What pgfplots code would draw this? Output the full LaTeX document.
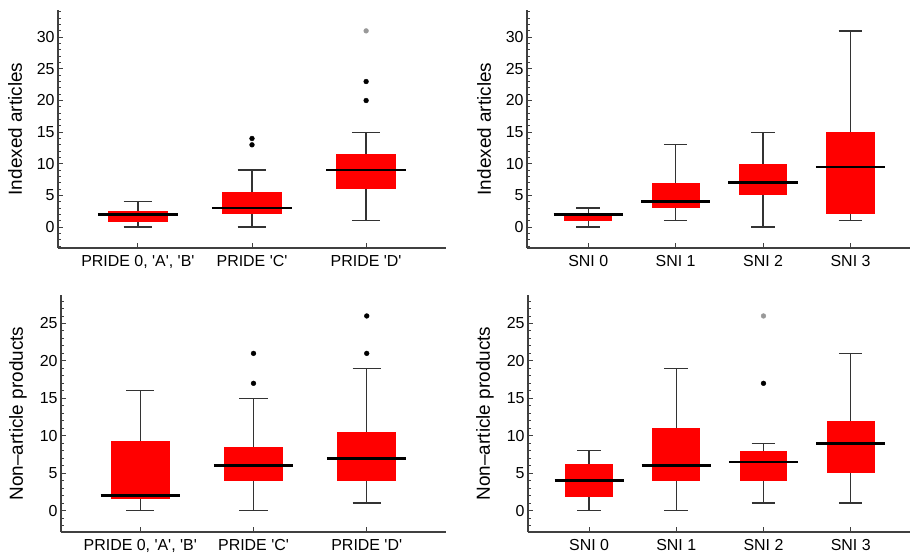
\documentclass[border=0pt]{standalone}
\usepackage{fontspec}
\setmainfont{Liberation Sans}
\usepackage{pgfplots}
\pgfplotsset{compat=1.18}
\usepgfplotslibrary{statistics}
\newcommand{\q}{\textquotesingle}
\definecolor{axgray}{gray}{0.25}
\pgfplotsset{
  panel/.style={
    scale only axis,
    axis lines=left,
    axis line style={-, axgray, line width=1.1bp},
    tick align=inside,
    major tick length=4.5bp,
    minor tick length=2.5bp,
    tick style={axgray, line width=0.9bp},
    /pgf/number format/assume math mode=true,
    tick label style={font=\fontsize{16}{19}\selectfont, text=black},
    xticklabel style={yshift=-4bp},
    every axis y label/.style={at={(axis description cs:0,0.5)}, xshift=-43bp, rotate=90, anchor=center, font=\fontsize{19}{22}\selectfont},
    clip=false,
  },
  pride/.style={xmin=-0.7, xmax=2.7, xtick={0,1,2},
    xticklabels={{PRIDE 0, \q A\q, \q B\q}, {PRIDE \q C\q}, {PRIDE \q D\q}}},
  sni/.style={xmin=-0.7, xmax=3.68, xtick={0,1,2,3},
    xticklabels={SNI 0, SNI 1, SNI 2, SNI 3}},
  toprow/.style={ymin=-3.3, ymax=34.3, ytick={0,5,...,30}, minor ytick={-3,...,34}, ylabel={Indexed articles}},
  botrow/.style={ymin=-2.86, ymax=28.8, ytick={0,5,...,25}, minor ytick={-2,...,28}, ylabel={Non–article products}},
  bxcommon/.style={
    boxplot/draw direction=y,
    boxplot/every box/.style={fill=red, draw=none},
    boxplot/every whisker/.style={black!80, line width=1.3bp},
    boxplot/every median/.style={black, line width=2.7bp},
  },
  bxP/.style={bxcommon,
    boxplot/box extend=0.52, boxplot/whisker extend=0.25,
    boxplot/draw/median/.code={\draw[/pgfplots/boxplot/every median/.try] (boxplot box cs:\pgfplotsboxplotvalue{median},-0.175) -- (boxplot box cs:\pgfplotsboxplotvalue{median},1.175);},
  },
  bxS/.style={bxcommon,
    boxplot/box extend=0.55, boxplot/whisker extend=0.27,
    boxplot/draw/median/.code={\draw[/pgfplots/boxplot/every median/.try] (boxplot box cs:\pgfplotsboxplotvalue{median},-0.22) -- (boxplot box cs:\pgfplotsboxplotvalue{median},1.22);},
  },
  outb/.style={only marks, mark=*, mark size=2.4bp, black, mark options={draw=black, fill=black}},
  outg/.style={only marks, mark=*, mark size=2.4bp, mark options={draw=black!40, fill=black!40}},
}
\begin{document}
\begin{tikzpicture}
\useasboundingbox (0,0) rectangle (911bp,558bp);
% ---------------- top left
\begin{axis}[panel, pride, toprow, at={(58bp,310bp)}, anchor=south west, width=388bp, height=238bp]
\addplot[bxP, boxplot prepared={draw position=0, lower whisker=0, lower quartile=0.75, median=2, upper quartile=2.5, upper whisker=4}] coordinates {};
\addplot[bxP, boxplot prepared={draw position=1, lower whisker=0, lower quartile=2, median=3, upper quartile=5.5, upper whisker=9}] coordinates {};
\addplot[bxP, boxplot prepared={draw position=2, lower whisker=1, lower quartile=6, median=9, upper quartile=11.5, upper whisker=15}] coordinates {};
\addplot[outb] coordinates {(1,13) (1,14) (2,20) (2,23)};
\addplot[outg] coordinates {(2,31)};
\end{axis}
% ---------------- top right
\begin{axis}[panel, sni, toprow, at={(527bp,310bp)}, anchor=south west, width=383bp, height=238bp]
\addplot[bxS, boxplot prepared={draw position=0, lower whisker=0, lower quartile=1, median=2, upper quartile=2, upper whisker=3}] coordinates {};
\addplot[bxS, boxplot prepared={draw position=1, lower whisker=1, lower quartile=3, median=4, upper quartile=7, upper whisker=13}] coordinates {};
\addplot[bxS, boxplot prepared={draw position=2, lower whisker=0, lower quartile=5, median=7, upper quartile=10, upper whisker=15}] coordinates {};
\addplot[bxS, boxplot prepared={draw position=3, lower whisker=1, lower quartile=2, median=9.5, upper quartile=15, upper whisker=31}] coordinates {};
\end{axis}
% ---------------- bottom left
\begin{axis}[panel, pride, botrow, at={(61bp,26bp)}, anchor=south west, width=385bp, height=237bp]
\addplot[bxP, boxplot prepared={draw position=0, lower whisker=0, lower quartile=1.5, median=2, upper quartile=9.25, upper whisker=16}] coordinates {};
\addplot[bxP, boxplot prepared={draw position=1, lower whisker=0, lower quartile=4, median=6, upper quartile=8.5, upper whisker=15}] coordinates {};
\addplot[bxP, boxplot prepared={draw position=2, lower whisker=1, lower quartile=4, median=7, upper quartile=10.5, upper whisker=19}] coordinates {};
\addplot[outb] coordinates {(1,17) (1,21) (2,21) (2,26)};
\end{axis}
% ---------------- bottom right
\begin{axis}[panel, sni, botrow, at={(528bp,26bp)}, anchor=south west, width=382bp, height=237bp]
\addplot[bxS, boxplot prepared={draw position=0, lower whisker=0, lower quartile=1.75, median=4, upper quartile=6.25, upper whisker=8}] coordinates {};
\addplot[bxS, boxplot prepared={draw position=1, lower whisker=0, lower quartile=4, median=6, upper quartile=11, upper whisker=19}] coordinates {};
\addplot[bxS, boxplot prepared={draw position=2, lower whisker=1, lower quartile=4, median=6.5, upper quartile=8, upper whisker=9}] coordinates {};
\addplot[bxS, boxplot prepared={draw position=3, lower whisker=1, lower quartile=5, median=9, upper quartile=12, upper whisker=21}] coordinates {};
\addplot[outb] coordinates {(2,17)};
\addplot[outg] coordinates {(2,26)};
\end{axis}
\end{tikzpicture}
\end{document}
